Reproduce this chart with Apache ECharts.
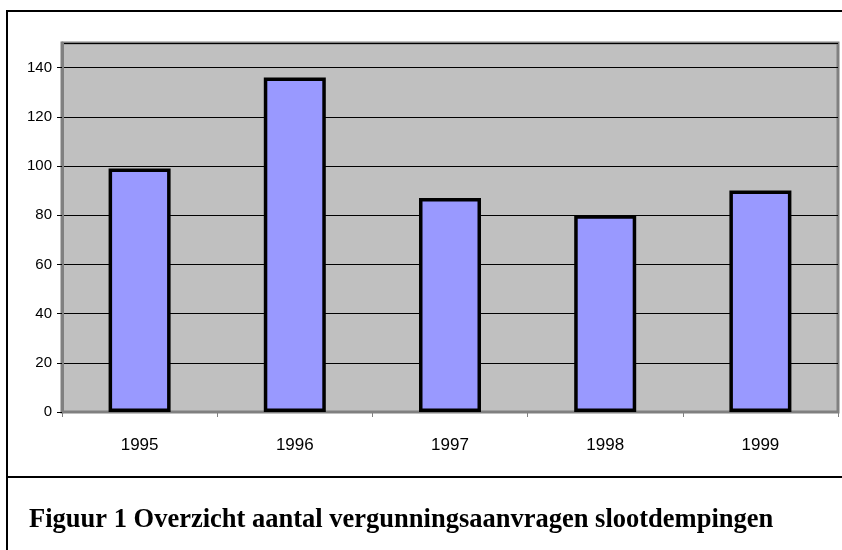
<!DOCTYPE html>
<html>
<head>
<meta charset="utf-8">
<script src="https://cdn.jsdelivr.net/npm/echarts@6/dist/echarts.min.js"></script>
<style>
html,body{margin:0;padding:0;background:#fff;}
#c{width:842px;height:550px;}
</style>
</head>
<body>
<div id="c"></div>
<script>
const categories = ['1995', '1996', '1997', '1998', '1999'];
const values = [99, 136, 87, 80, 90];
const captionText = 'Figuur 1 Overzicht aantal vergunningsaanvragen slootdempingen';

const chart = echarts.init(document.getElementById('c'));
chart.setOption({
  animation: false,
  backgroundColor: '#ffffff',
  grid: {
    left: 62, top: 43, right: 4, bottom: 138,
    show: true, backgroundColor: '#c0c0c0', borderColor: '#808080', borderWidth: 3
  },
  xAxis: {
    type: 'category',
    data: categories,
    axisLine: { show: true, lineStyle: { color: '#808080', width: 1 } },
    axisTick: { show: true, length: 5, lineStyle: { color: '#808080' } },
    axisLabel: { color: '#000', fontFamily: 'Liberation Sans', fontSize: 17, margin: 25 }
  },
  yAxis: {
    type: 'value',
    min: 0, max: 150, interval: 20,
    axisLine: { show: true, lineStyle: { color: '#808080', width: 3 } },
    axisTick: { show: true, length: 5, lineStyle: { color: '#000' } },
    axisLabel: {
      color: '#000', fontFamily: 'Liberation Sans', fontSize: 15, margin: 10,
      showMaxLabel: false
    },
    splitLine: { show: true, lineStyle: { color: '#000', width: 1 } }
  },
  series: [{
    type: 'bar',
    data: values,
    barWidth: 62,
    itemStyle: { color: '#9999ff', borderColor: '#000', borderWidth: 3.5 }
  }],
  graphic: [
    { type: 'line', shape: { x1: 7, y1: 11, x2: 842, y2: 11 }, style: { stroke: '#000', lineWidth: 2 }, z: 100 },
    { type: 'line', shape: { x1: 7, y1: 10, x2: 7, y2: 550 }, style: { stroke: '#000', lineWidth: 2 }, z: 100 },
    { type: 'line', shape: { x1: 7, y1: 477, x2: 842, y2: 477 }, style: { stroke: '#000', lineWidth: 2 }, z: 100 },
    { type: 'text', x: 29, y: 520,
      style: { text: captionText, fill: '#000', font: 'bold 26.5px "Liberation Serif"', verticalAlign: 'middle' }, z: 100 }
  ]
});
</script>
</body>
</html>
